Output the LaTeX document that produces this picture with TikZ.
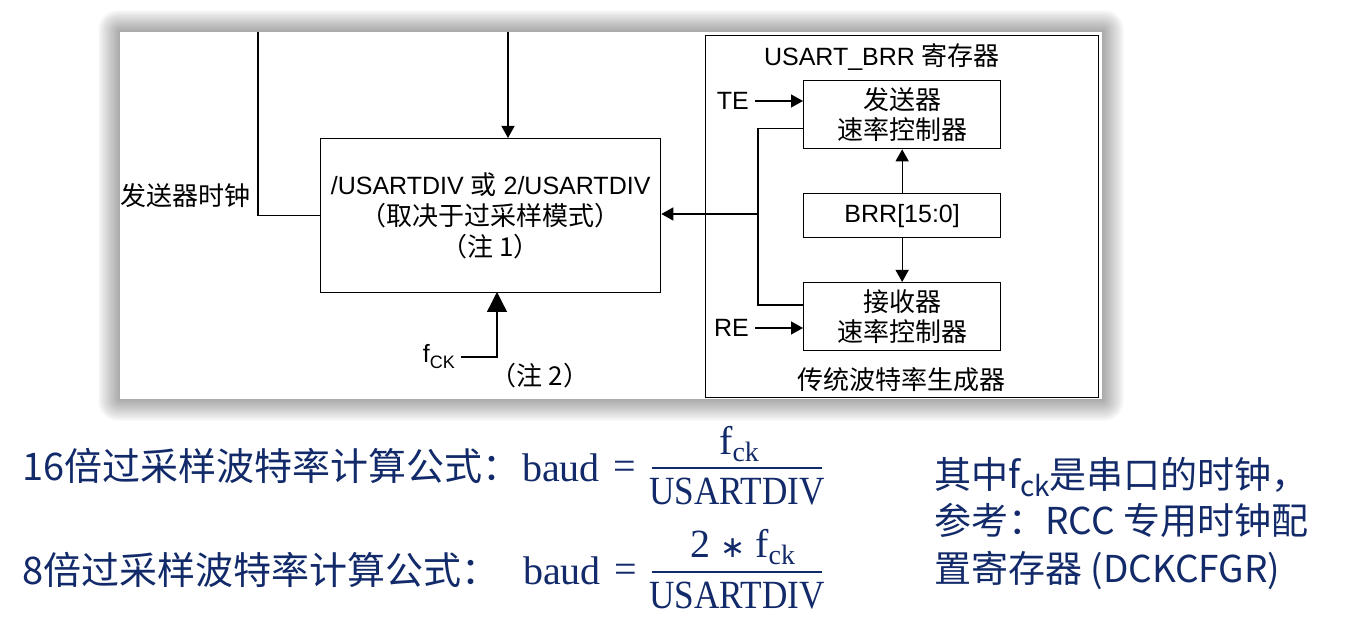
\documentclass[tikz,border=0pt]{standalone}
\usepackage{graphicx}
\usepackage{fontspec}
\setmainfont{Liberation Sans}
\newfontfamily\cjk{Noto Sans CJK SC}
\newfontfamily\serifm{Liberation Serif}
\newfontfamily\dejavu{DejaVu Sans}
\usetikzlibrary{arrows.meta}
\definecolor{navy}{RGB}{18,42,105}
\newcommand{\fs}[1]{\fontsize{#1}{#1}\selectfont}
\begin{document}
\begin{tikzpicture}[x=1pt,y=-1pt,
  box/.style={draw, line width=1.3pt, anchor=north west, inner sep=0pt, align=center},
  lab/.style={inner sep=0pt, font=\fs{25}},
  clab/.style={inner sep=0pt, font=\cjk\fs{26}},
  wire/.style={line width=1.3pt},
  arr/.style={wire, -{Triangle[length=12pt,width=13pt]}},
  bigarr/.style={wire, -{Triangle[length=20pt,width=20pt]}},
  bl/.style={text=navy, inner sep=0pt},
  formula/.style={bl, font=\serifm\fs{40}}]
\useasboundingbox (0,0) rectangle (1345,617);
% panel with soft shadow
\foreach \i in {1,...,20}
  \fill[black, opacity=0.02, rounded corners=\i pt] (120-\i*1.1, 32-\i*1.1) rectangle (1102+\i*1.1, 399+\i*1.1);
\fill[white] (120,32) rectangle (1102,399);

% main divider box
\node[box, minimum width=340pt, minimum height=154pt, font=\fontsize{25}{31}\selectfont] (div) at (320,138)
  {/USARTDIV {\cjk\fs{26}或} 2/USARTDIV\\{\cjk\fs{26}（取决于过采样模式）}\\{\cjk\fs{26}（注 1）}};

\coordinate (topL) at (258,32);
\coordinate (topM) at (508,32);
\node[clab] (txclk) at (185,196) {发送器时钟};
\draw[wire] (div.west) -| (topL);
\draw[arr] (topM) -- (topM |- div.north);

\node[lab, anchor=east, inner xsep=6pt] (fck) at (461,357) {f\raisebox{-6pt}{\fs{18}CK}};
\node[clab] (note2) at (540,376) {（注 2）};
\draw[bigarr] (fck.east) -| (497,292);

% baud rate generator
\node[draw, line width=1.3pt, anchor=north west, minimum width=393pt, minimum height=362pt, inner sep=0pt] (gen) at (705,35) {};
\node[lab] (gentitle) at (882,57) {USART\_BRR {\cjk\fs{26}寄存器}};
\node[clab] (genfoot) at (901,380) {传统波特率生成器};

\node[box, minimum width=197pt, minimum height=68pt, font=\cjk\fontsize{26}{30}\selectfont] (tx) at (803,80) {发送器\\速率控制器};
\node[box, minimum width=197pt, minimum height=44pt, font=\fs{25}] (brr) at (803,193) {BRR[15:0]};
\node[box, minimum width=197pt, minimum height=68pt, font=\cjk\fontsize{26}{30}\selectfont] (rx) at (803,282) {接收器\\速率控制器};

\node[lab, anchor=east, inner xsep=6pt] (te) at (755,101) {TE};
\node[lab, anchor=east, inner xsep=6pt] (re) at (755,328) {RE};
\draw[arr] (te.east) -- (te.east -| tx.west);
\draw[arr] (re.east) -- (re.east -| rx.west);
\draw[arr] (brr.north) -- (tx.south);
\draw[arr] (brr.south) -- (rx.north);

\coordinate (j) at (758,214);
\draw[wire] ([yshift=21pt]tx.south west) -| (j) |- ([yshift=-23pt]rx.north west);
\draw[arr] (j) -- (j -| div.east);

% formulas
\node[bl, anchor=base west, font=\cjk\fs{38}] (l1) at (22,481) {16倍过采样波特率计算公式：};
\node[bl, anchor=base west, font=\cjk\fs{38}] (l2) at (22,584) {8倍过采样波特率计算公式：};

\node[formula, anchor=base] (b1) at (561,482) {baud};
\node[formula, anchor=base] (e1) at (625,480) {=};
\node[formula, anchor=base west] (n1) at (719,455) {f\raisebox{-7pt}{\fs{28}ck}};
\node[formula, anchor=base] (d1) at (737,505) {\scalebox{0.88}[1]{USARTDIV}};
\draw[navy, line width=2pt] (652,468) -- (822,468);

\node[formula, anchor=base] (b2) at (562,584) {baud};
\node[formula, anchor=base] (e2) at (626,582) {=};
\node[formula, anchor=base west] (n2) at (690,558) {2 {\dejavu\fs{30}∗} f\raisebox{-7pt}{\fs{28}ck}};
\node[formula, anchor=base] (d2) at (737,608) {\scalebox{0.88}[1]{USARTDIV}};
\draw[navy, line width=2pt] (652,572) -- (822,572);

\node[bl, anchor=base west, font=\cjk\fs{37}] (r1) at (934,489) {其中f\raisebox{-8pt}{\fs{28}ck}是串口的时钟，};
\node[bl, anchor=base west, font=\cjk\fs{37}] (r2) at (934,535) {参考：RCC 专用时钟配};
\node[bl, anchor=base west, font=\cjk\fs{37}] (r3) at (934,583) {置寄存器 (DCKCFGR)};
\end{tikzpicture}
\end{document}
